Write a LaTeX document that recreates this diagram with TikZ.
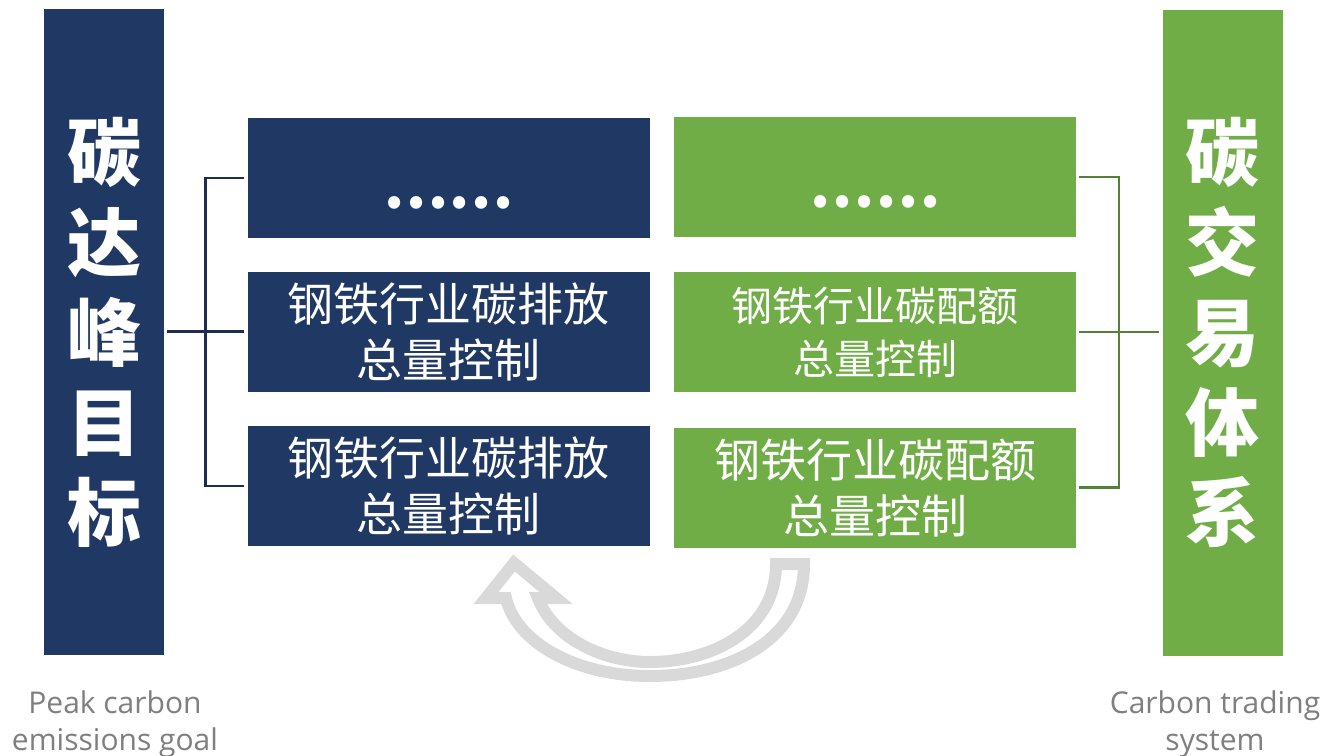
\documentclass[tikz,border=0pt]{standalone}
\usepackage{fontspec}
\setmainfont{Open Sans}
\newfontfamily\cjk{Noto Sans CJK SC}
\definecolor{navy}{HTML}{203864}
\definecolor{grn}{HTML}{70AD47}
\definecolor{dgrn}{HTML}{548235}
\definecolor{dnavy}{HTML}{1B2E52}
\definecolor{arrowgray}{HTML}{D9D9D9}
\definecolor{capgray}{HTML}{7F7F7F}
\begin{document}
\begin{tikzpicture}[x=1pt,y=-1pt,
  bar/.style={fill=#1,minimum width=120pt,minimum height=646pt,inner sep=0pt,text=white,align=center,font=\cjk\bfseries\fontsize{74}{90}\selectfont},
  box/.style={fill=#1,minimum width=402pt,minimum height=120pt,inner sep=0pt,text=white,align=center},
  dots/.style={font=\cjk\bfseries\fontsize{58}{58}\selectfont,text=white,inner sep=0pt},
  caption/.style={font=\fontsize{30}{37}\selectfont,text=capgray,align=center,inner sep=0pt},
  bracketL/.style={draw=dnavy,line width=2.5pt},
  bracketR/.style={draw=dgrn,line width=2.5pt},
  hollowarrow/.style={draw=arrowgray,line width=12pt,fill=white,line join=miter}
]
\useasboundingbox[fill=white] (0,0) rectangle (1324,755);

% tall bars
\node[bar=navy] (L) at (104,332) {碳\\达\\峰\\目\\标};
\node[bar=grn]  (R) at (1222.5,332.5) {碳\\交\\易\\体\\系};

% left boxes
\node[box=navy] (lb1) at (448.5,178) {};
\node[dots] at ([yshift=-25pt]lb1.center) {……};
\node[box=navy,font=\cjk\fontsize{46}{56}\selectfont] (lb2) at (448.5,331.5) {钢铁行业碳排放\\总量控制};
\node[box=navy,font=\cjk\fontsize{46}{56}\selectfont] (lb3) at (448.5,486) {钢铁行业碳排放\\总量控制};

% right boxes
\node[box=grn] (rb1) at (875,177) {};
\node[dots] at ([yshift=-25pt]rb1.center) {……};
\node[box=grn,font=\cjk\fontsize{41}{53}\selectfont] (rb2) at (875,332) {钢铁行业碳配额\\总量控制};
\node[box=grn,font=\cjk\fontsize{46}{56}\selectfont] (rb3) at (875,487.5) {钢铁行业碳配额\\总量控制};

% brackets
\draw[bracketL] ([xshift=-3pt]lb1.west) -- ++(-39,0) |- ([xshift=-3pt]lb3.west);
\draw[bracketL] ([xshift=3pt]L.east |- lb2.west) -- ([xshift=-3pt]lb2.west);
\draw[bracketR] ([xshift=3pt]rb1.east) -- ++(40,0) |- ([xshift=3pt]rb3.east);
\draw[bracketR] ([xshift=3pt]rb2.east) -- ([xshift=-3pt]R.west |- rb2.east);

% hollow curved arrow
\draw[hollowarrow] (776,564) -- (804,564)
  .. controls (804,640) and (730,676) .. (650,676)
  .. controls (575,676) and (516,642) .. (506,598)
  -- (486,598) -- (514,563) -- (556,598) -- (538,598)
  .. controls (552,636) and (600,662) .. (650,662)
  .. controls (712,662) and (776,630) .. (776,564) -- cycle;

% captions
\node[caption] (capL) at (115,724) {Peak carbon\\emissions goal};
\node[caption] (capR) at (1215,724) {Carbon trading\\system};
\end{tikzpicture}
\end{document}
